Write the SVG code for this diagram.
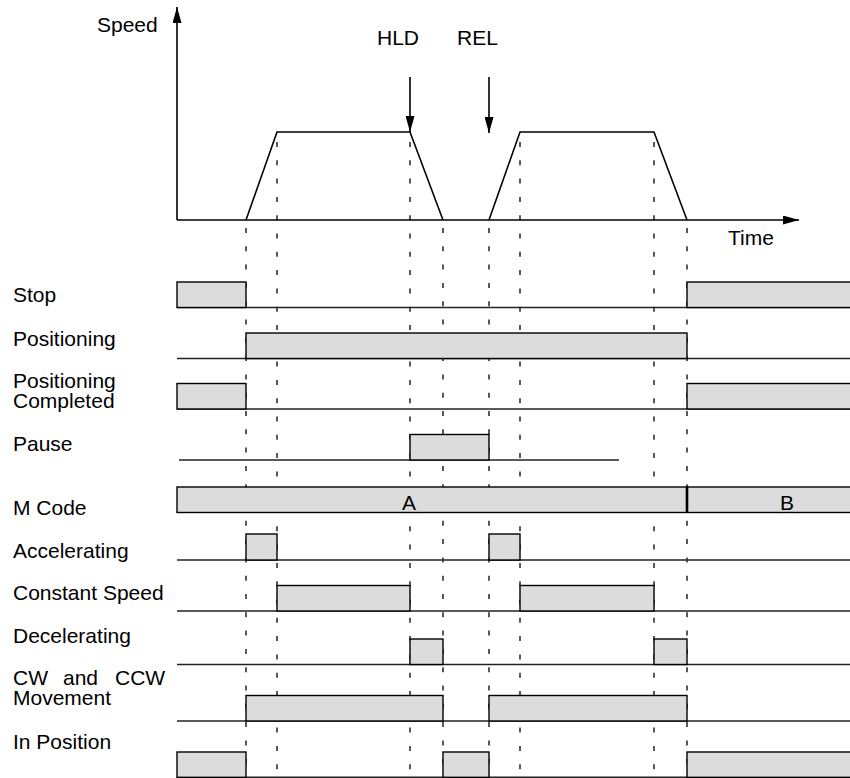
<svg xmlns="http://www.w3.org/2000/svg" width="850" height="778" viewBox="0 0 850 778">
<style>
text{font-family:"Liberation Sans",Arial,Helvetica,sans-serif;font-size:21px;fill:#000}
.box{fill:#dcdcdc;stroke:#000;stroke-width:1.4}
.base{stroke:#222;stroke-width:1.5;fill:none}
.dash{stroke:#000;stroke-width:1.3;stroke-dasharray:5 13.3;fill:none}
.ax{stroke:#000;stroke-width:1.6;fill:none}
</style>
<defs>
<marker id="ah" markerUnits="userSpaceOnUse" markerWidth="16" markerHeight="9" refX="16" refY="4.5" orient="auto">
<path d="M0,0 L16,4.5 L0,9 z" fill="#000"/>
</marker>
</defs>
<rect width="850" height="778" fill="#fff"/>
<g id="guides">
<line class="dash" x1="246" y1="228" x2="246" y2="778"/>
<line class="dash" x1="277" y1="142" x2="277" y2="778"/>
<line class="dash" x1="410" y1="142" x2="410" y2="778"/>
<line class="dash" x1="443" y1="228" x2="443" y2="778"/>
<line class="dash" x1="489" y1="228" x2="489" y2="778"/>
<line class="dash" x1="520" y1="142" x2="520" y2="778"/>
<line class="dash" x1="654" y1="142" x2="654" y2="778"/>
<line class="dash" x1="687" y1="228" x2="687" y2="778"/>
</g>
<g id="speed-chart">
<line class="ax" x1="177" y1="220" x2="177" y2="7" marker-end="url(#ah)"/>
<line class="ax" x1="177" y1="220" x2="799" y2="220" marker-end="url(#ah)"/>
<polyline class="ax" points="246,220 277,132 410,132 443,220"/>
<polyline class="ax" points="489,220 520,132 654,132 687,220"/>
<text x="97" y="32">Speed</text>
<text x="728" y="245">Time</text>
</g>
<g id="connectors">
<line class="ax" x1="410" y1="77" x2="410" y2="132" marker-end="url(#ah)"/>
<line class="ax" x1="489" y1="77" x2="489" y2="133" marker-end="url(#ah)"/>
<text x="377" y="45">HLD</text>
<text x="457" y="45">REL</text>
</g>
<g id="stop">
<text x="13" y="302">Stop</text>
<line class="base" x1="177" y1="307.5" x2="850" y2="307.5"/>
<rect class="box" x="177" y="282" width="69" height="25.5"/>
<rect class="box" x="687" y="282" width="170" height="25.5"/>
</g>
<g id="positioning">
<text x="13" y="346">Positioning</text>
<line class="base" x1="177" y1="358.5" x2="850" y2="358.5"/>
<rect class="box" x="246" y="333" width="441" height="25.5"/>
</g>
<g id="positioning-completed">
<text x="13" y="388">Positioning<tspan x="13" y="407.5">Completed</tspan></text>
<line class="base" x1="177" y1="409" x2="850" y2="409"/>
<rect class="box" x="177" y="383.5" width="69" height="25.5"/>
<rect class="box" x="687" y="383.5" width="170" height="25.5"/>
</g>
<g id="pause">
<text x="13" y="450.5">Pause</text>
<line class="base" x1="179" y1="460" x2="619" y2="460"/>
<rect class="box" x="410" y="434.5" width="79" height="25.5"/>
</g>
<g id="m-code">
<text x="13" y="515">M Code</text>
<rect class="box" x="177" y="487" width="680" height="25.5"/>
<line x1="687" y1="486" x2="687" y2="513" stroke="#000" stroke-width="2.6"/>
<text x="409" y="509.5" text-anchor="middle">A</text>
<text x="787" y="509.5" text-anchor="middle">B</text>
</g>
<g id="accelerating">
<text x="13" y="557.5">Accelerating</text>
<line class="base" x1="177" y1="560" x2="850" y2="560"/>
<rect class="box" x="246" y="534" width="31" height="26"/>
<rect class="box" x="489" y="534" width="31" height="26"/>
</g>
<g id="constant-speed">
<text x="13" y="600">Constant Speed</text>
<line class="base" x1="177" y1="611" x2="850" y2="611"/>
<rect class="box" x="277" y="585.5" width="133" height="25.5"/>
<rect class="box" x="520" y="585.5" width="134" height="25.5"/>
</g>
<g id="decelerating">
<text x="13" y="642.5">Decelerating</text>
<line class="base" x1="177" y1="664.5" x2="850" y2="664.5"/>
<rect class="box" x="410" y="639" width="33" height="25.5"/>
<rect class="box" x="654" y="639" width="33" height="25.5"/>
</g>
<g id="cw-ccw-movement">
<text x="13" y="685">CW<tspan x="63">and</tspan><tspan x="115">CCW</tspan><tspan x="13" y="705">Movement</tspan></text>
<line class="base" x1="177" y1="721" x2="850" y2="721"/>
<rect class="box" x="246" y="695.5" width="197" height="25.5"/>
<rect class="box" x="489" y="695.5" width="198" height="25.5"/>
</g>
<g id="in-position">
<text x="13" y="749">In Position</text>
<line class="base" x1="177" y1="777.3" x2="850" y2="777.3"/>
<rect class="box" x="177" y="752" width="69" height="25.3"/>
<rect class="box" x="443" y="752" width="46" height="25.3"/>
<rect class="box" x="687" y="752" width="170" height="25.3"/>
</g>
</svg>
